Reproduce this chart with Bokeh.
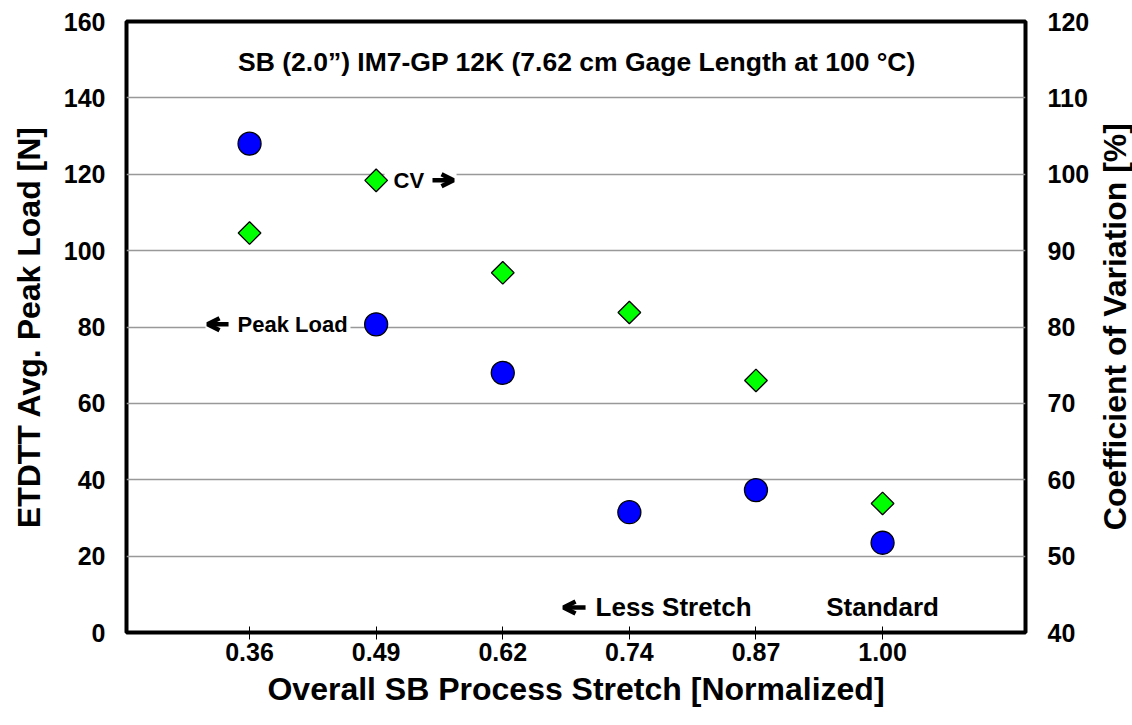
import numpy as np
from bokeh.plotting import figure
from bokeh.layouts import row
from bokeh.models import (Range1d, LinearAxis, FixedTicker, Label, ColumnDataSource,
                          Arrow, OpenHead, BoxAnnotation)
from bokeh.embed import file_html
from bokeh.resources import INLINE

# Overall SB process stretch (normalized), one category per specimen group
stretch_labels = ["0.36", "0.49", "0.62", "0.74", "0.87", "1.00"]
# ETDTT average peak load [N] (left axis)
peak_load_n = [128.0, 80.7, 68.0, 31.5, 37.3, 23.5]
# Coefficient of variation [%] (right axis)
cv_percent = [92.3, 99.2, 87.1, 81.9, 73.0, 56.9]

load_ticks = [0, 20, 40, 60, 80, 100, 120, 140, 160]
cv_ticks = [40, 50, 60, 70, 80, 90, 100, 110, 120]

FONT = "Liberation Sans"
X_START, X_END = 0.028, 7.129
MAIN_W, SIDE_W, H = 1094, 38, 725
BORDER_TOP, BORDER_BOTTOM = 21, 93

positions = list(range(1, len(stretch_labels) + 1))
source = ColumnDataSource(dict(x=positions, load=peak_load_n, cv=cv_percent))

p = figure(width=MAIN_W, height=H, output_backend="svg", toolbar_location=None,
           x_range=Range1d(X_START, X_END), y_range=Range1d(0, 160),
           min_border_left=126, min_border_right=69,
           min_border_top=BORDER_TOP, min_border_bottom=BORDER_BOTTOM,
           background_fill_color="white", border_fill_color="white")
p.extra_y_ranges = {"cv": Range1d(40, 120)}

p.outline_line_color = "black"
p.outline_line_width = 4

p.xgrid.visible = False
p.ygrid.ticker = FixedTicker(ticks=load_ticks[1:-1])
p.ygrid.grid_line_color = "#999999"
p.ygrid.grid_line_width = 1.6


def style_axis(ax, title):
    ax.axis_label = title
    ax.axis_label_text_font = FONT
    ax.axis_label_text_font_style = "bold"
    ax.axis_label_text_font_size = "32px"
    ax.axis_label_text_color = "black"
    ax.major_label_text_font = FONT
    ax.major_label_text_font_style = "bold"
    ax.major_label_text_font_size = "25px"
    ax.major_label_text_color = "black"
    ax.axis_line_color = None
    ax.minor_tick_line_color = None


# bottom category axis
xa = p.xaxis[0]
style_axis(xa, "Overall SB Process Stretch [Normalized]")
xa.ticker = FixedTicker(ticks=positions)
xa.major_label_overrides = {i: s for i, s in zip(positions, stretch_labels)}
xa.major_tick_in = 6
xa.major_tick_out = 7
xa.major_tick_line_color = "black"
xa.major_tick_line_width = 1
xa.major_label_standoff = 3
xa.axis_label_standoff = 7

# left load axis
ya = p.yaxis[0]
style_axis(ya, "ETDTT Avg. Peak Load [N]")
ya.ticker = FixedTicker(ticks=load_ticks)
ya.major_tick_in = 0
ya.major_tick_out = 0
ya.major_label_standoff = 21
ya.axis_label_standoff = 14

# right CV axis (numbers only; its title sits in the narrow side panel)
yr = LinearAxis(y_range_name="cv")
style_axis(yr, None)
yr.axis_label = None
yr.ticker = FixedTicker(ticks=cv_ticks)
yr.major_tick_in = 0
yr.major_tick_out = 0
yr.major_label_standoff = 22
p.add_layout(yr, "right")

# white gaps in the grid behind the series pointers
cv_y = (cv_percent[1] - 40) * 2.0
for left, right, yc in [(2.066, 2.635, cv_y + 1.6), (0.652, 1.797, peak_load_n[1] - 0.7)]:
    p.add_layout(BoxAnnotation(left=left, right=right, bottom=yc - 2.5, top=yc + 2.5,
                               fill_color="white", fill_alpha=1.0, line_color=None,
                               level="underlay"))

# data markers
p.scatter("x", "load", source=source, marker="circle", size=23,
          fill_color="#0000ff", line_color="black", line_width=1.3)
p.scatter("x", "cv", source=source, y_range_name="cv", marker="square",
          angle=np.pi / 4, size=16, fill_color="#00ff00",
          line_color="black", line_width=1.3)


def note(x, y, text, size, align="left"):
    p.add_layout(Label(x=x, y=y, text=text, text_font=FONT, text_font_style="bold",
                       text_font_size=size, text_color="black", text_align=align,
                       text_baseline="middle"))


def pointer(x0, x1, y):
    p.add_layout(Arrow(x_start=x0, y_start=y, x_end=x1, y_end=y,
                       line_color="black", line_width=4.5,
                       end=OpenHead(size=12, line_color="black", line_width=4.5)))


# chart title inside the frame
note(3.586, 149.5, "SB (2.0\u201d) IM7-GP 12K (7.62 cm Gage Length at 100 \u00b0C)",
     "26.5px", align="center")

# series pointers
note(2.137, cv_y, "CV", "22px")
pointer(2.445, 2.611, cv_y)

note(0.905, peak_load_n[1], "Peak Load", "22px")
pointer(0.834, 0.668, peak_load_n[1])

# stretch direction notes along the bottom
note(3.733, 6.55, "Less Stretch", "26px")
pointer(3.654, 3.480, 6.55)
note(6.0, 6.55, "Standard", "26px", align="center")

# narrow side panel carrying the right-hand axis title, reading upwards
side = figure(width=SIDE_W, height=H, output_backend="svg", toolbar_location=None,
              x_range=Range1d(0, SIDE_W), y_range=p.y_range,
              x_axis_type=None, y_axis_type=None,
              min_border_left=0, min_border_right=0,
              min_border_top=BORDER_TOP, min_border_bottom=BORDER_BOTTOM,
              background_fill_color="white", border_fill_color="white")
side.outline_line_color = None
side.add_layout(Label(x=20, y=80.1, text="Coefficient of Variation [%]",
                      text_font=FONT, text_font_style="bold", text_font_size="32px",
                      text_color="black", text_align="center", text_baseline="middle",
                      angle=np.pi / 2))

layout = row(p, side, spacing=0)
open("out.html", "w").write(file_html(layout, INLINE))
